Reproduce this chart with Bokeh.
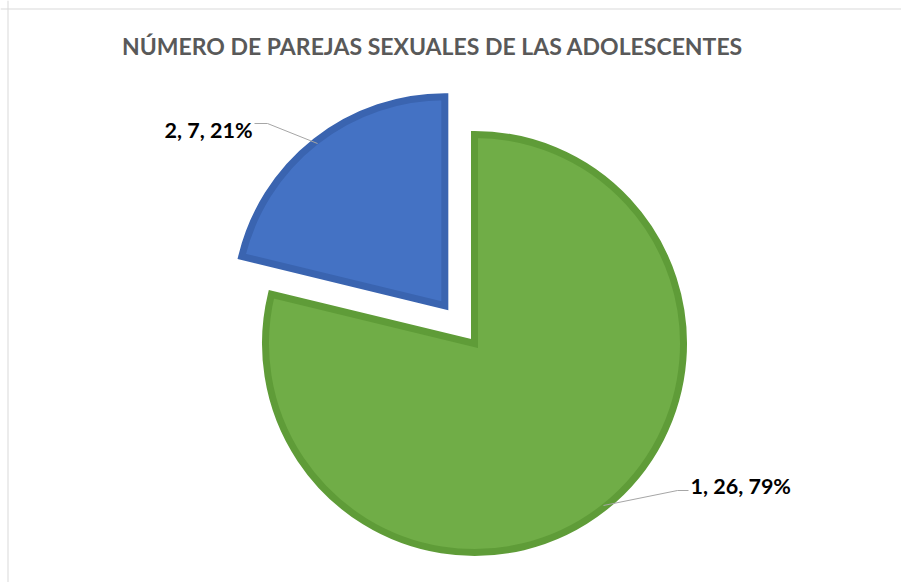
import math
from bokeh.plotting import figure
from bokeh.models import Span, ColumnDataSource
from bokeh.core.properties import value
from bokeh.embed import file_html
from bokeh.resources import INLINE

# ---- data ----
categories = ["1", "2"]
counts = [26, 7]
percent_labels = ["79%", "21%"]
fill_colors = ["#70AD47", "#4472C4"]
rim_colors = ["#5F9C38", "#3A64B0"]
explode = [0, 48]
title_text = "NÚMERO DE PAREJAS SEXUALES DE LAS ADOLESCENTES"

W, H = 901, 582
p = figure(width=W, height=H, output_backend="svg", toolbar_location=None,
           x_range=(0, W), y_range=(0, H), min_border=0)
p.axis.visible = False
p.grid.visible = False
p.outline_line_color = None
p.background_fill_color = "white"

# chart-area frame edges (left and top visible only)
p.add_layout(Span(location=7.5, dimension="height", line_color="#D9D9D9", line_width=1))
p.add_layout(Span(location=H - 8.5, dimension="width", line_color="#D9D9D9", line_width=1))

cx, cy, r = 474, 239, 209
total = sum(counts)
start = math.pi / 2  # 12 o'clock, going clockwise
xs, ys, sa, ea = [], [], [], []
for c, e in zip(counts, explode):
    sweep = 2 * math.pi * c / total
    a0 = start - sweep
    a1 = start
    mid = (a0 + a1) / 2
    xs.append(cx + e * math.cos(mid))
    ys.append(cy + e * math.sin(mid))
    sa.append(a0)
    ea.append(a1)
    start = a0

src = ColumnDataSource(dict(x=xs, y=ys, sa=sa, ea=ea, fill=fill_colors, rim=rim_colors))
p.wedge(x="x", y="y", radius=r, start_angle="sa", end_angle="ea", source=src,
        fill_color="fill", line_color="rim", line_width=7, line_join="miter")

# title
p.text(x=[432], y=[H - 45], text=[title_text], text_font=value("Lato"),
       text_font_style="bold", text_font_size="23px", text_color="#595959",
       text_align="center", text_baseline="middle")

# labels with leader lines
labels = [f"{c}, {n}, {pc}" for c, n, pc in zip(categories, counts, percent_labels)]
# green label (right-bottom)
p.line(x=[603, 677, 688], y=[H - 505, H - 490, H - 490], line_color="#A6A6A6", line_width=1)
p.text(x=[690], y=[H - 485], text=[labels[0]], text_font=value("Lato"),
       text_font_style="bold", text_font_size="21.5px", text_color="black",
       text_align="left", text_baseline="middle")
# blue label (top-left)
p.line(x=[317, 267, 254], y=[H - 143, H - 123, H - 123], line_color="#A6A6A6", line_width=1)
p.text(x=[252], y=[H - 129], text=[labels[1]], text_font=value("Lato"),
       text_font_style="bold", text_font_size="21.5px", text_color="black",
       text_align="right", text_baseline="middle")

open("out.html", "w").write(file_html(p, INLINE))
